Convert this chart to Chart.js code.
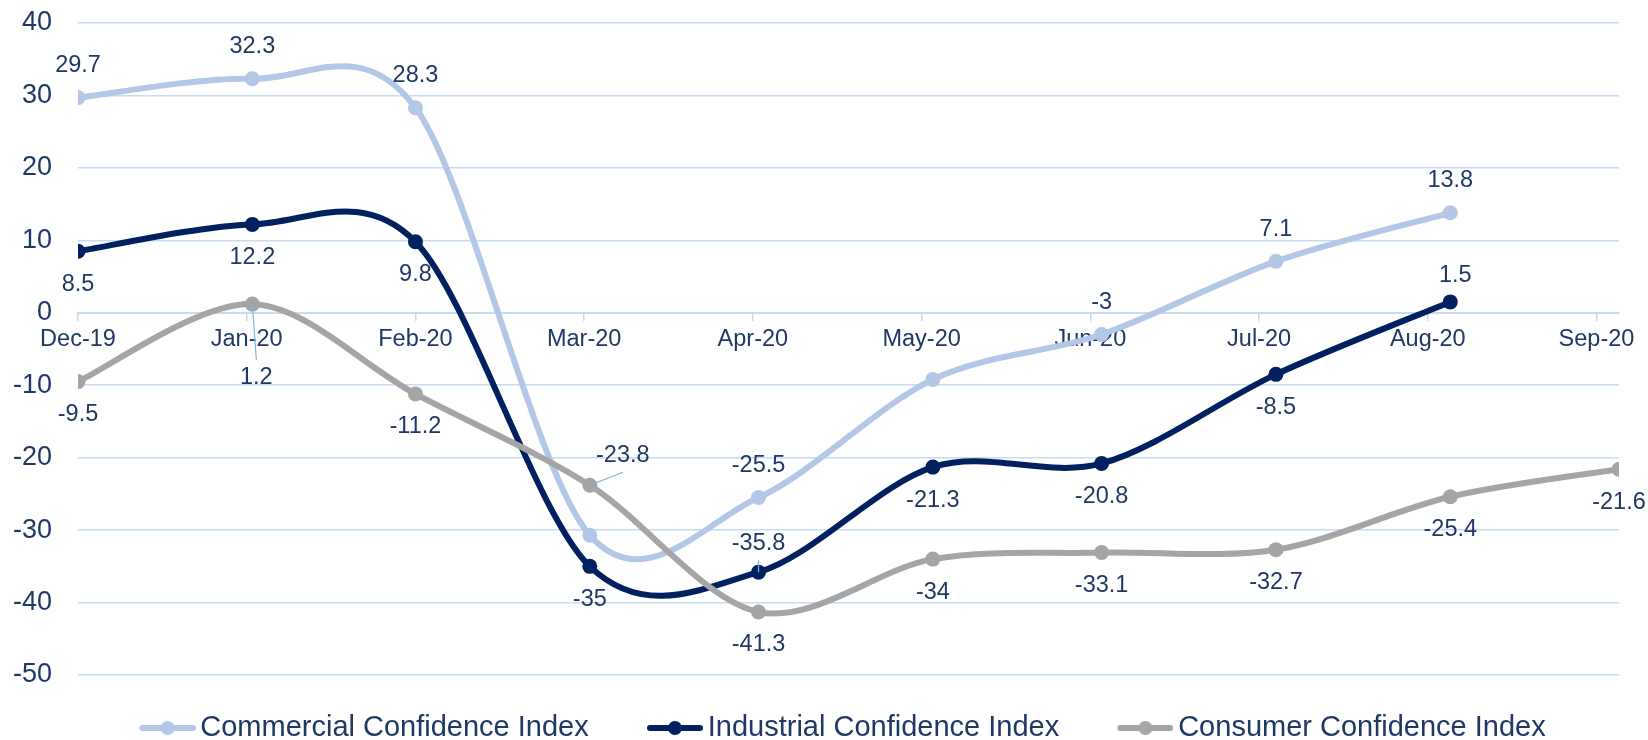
<!DOCTYPE html>
<html>
<head>
<meta charset="utf-8">
<title>Confidence Indices</title>
<script src="https://cdn.jsdelivr.net/npm/chart.js@4.4.0/dist/chart.umd.min.js"></script>
<style>
  html, body { margin: 0; padding: 0; background: #fff; }
  #wrap { width: 1648px; height: 740px; position: relative; }
</style>
</head>
<body>
<div id="wrap"><canvas id="chart"></canvas></div>
<script>
// month-end observation dates, the x axis is a day axis
const dates = ['2019-12-31', '2020-01-31', '2020-02-29', '2020-03-31', '2020-04-30',
               '2020-05-31', '2020-06-30', '2020-07-31', '2020-08-31', '2020-09-30'];
const tickLabels = ['Dec-19', 'Jan-20', 'Feb-20', 'Mar-20', 'Apr-20',
                    'May-20', 'Jun-20', 'Jul-20', 'Aug-20', 'Sep-20'];
const tickStepDays = 30;

const commercial = [29.7, 32.3, 28.3, -30.7, -25.5, -9.2, -3, 7.1, 13.8, null];
const industrial = [8.5, 12.2, 9.8, -35, -35.8, -21.3, -20.8, -8.5, 1.5, null];
const consumer = [-9.5, 1.2, -11.2, -23.8, -41.3, -34, -33.1, -32.7, -25.4, -21.6];

const seriesNames = ['Commercial Confidence Index', 'Industrial Confidence Index', 'Consumer Confidence Index'];
const seriesColors = ['#B4C7E7', '#002060', '#A5A5A5'];

const textColor = '#1F3864';
const gridColor = '#C5DCF3';
const leaderColor = '#7FB2E5';
const fontFamily = '"Liberation Sans", Arial, sans-serif';
const smoothing = 0.16; // spreadsheet-style smoothed line

const dayMs = 86400000;
const start = Date.parse(dates[0]);
const dayOffsets = dates.map(d => Math.round((Date.parse(d) - start) / dayMs));

// where each series puts its value labels (hidden ones left out)
const labelLayout = [
    { dy: -32, hide: [3, 5], custom: {} },
    { dy: 33, hide: [], custom: { 4: { dy: -29, leader: true }, 8: { dx: 5, dy: -26 } } },
    { dy: 33, hide: [], custom: { 1: { dx: 4, dy: 73, leader: true }, 3: { dx: 33, dy: -30, leader: true } } }
];

const toPoints = values => values.map((v, i) => ({ x: dayOffsets[i], y: v }));

// line + dot icons for the legend, drawn at the right end of a wider canvas
const makeLegendIcon = (color) => {
    const c = document.createElement('canvas');
    c.width = 120;
    c.height = 18;
    const g = c.getContext('2d');
    g.strokeStyle = color;
    g.lineWidth = 6;
    g.lineCap = 'round';
    g.beginPath();
    g.moveTo(c.width - 53, 9);
    g.lineTo(c.width - 3, 9);
    g.stroke();
    g.fillStyle = color;
    g.beginPath();
    g.arc(c.width - 28, 9, 7, 0, Math.PI * 2);
    g.fill();
    return c;
};
const legendIcons = seriesColors.map(makeLegendIcon);

// control points like a spreadsheet smoothed line: tangent = (next - prev) * k
const spreadsheetCurve = {
    id: 'spreadsheetCurve',
    beforeDatasetDraw(chart, args) {
        const line = args.meta.dataset;
        const pts = args.meta.data.filter(p => !p.skip);
        pts.forEach((p, i) => {
            const prev = pts[i - 1] || p;
            const next = pts[i + 1] || p;
            const tx = (next.x - prev.x) * smoothing;
            const ty = (next.y - prev.y) * smoothing;
            p.cp1x = p.x - tx;
            p.cp1y = p.y - ty;
            p.cp2x = p.x + tx;
            p.cp2y = p.y + ty;
        });
        line._pointsUpdated = true;
        line._path = undefined;
    }
};

const pointLabels = {
    id: 'pointLabels',
    afterDatasetsDraw(chart) {
        const ctx = chart.ctx;
        ctx.save();
        ctx.font = `23.5px ${fontFamily}`;
        ctx.fillStyle = textColor;
        ctx.textAlign = 'center';
        ctx.textBaseline = 'middle';
        chart.data.datasets.forEach((ds, di) => {
            const meta = chart.getDatasetMeta(di);
            const layout = labelLayout[di];
            meta.data.forEach((pt, i) => {
                const v = ds.data[i].y;
                if (v === null || layout.hide.includes(i)) return;
                const c = layout.custom[i] || {};
                const lx = pt.x + (c.dx || 0);
                const ly = pt.y + (c.dy !== undefined ? c.dy : layout.dy);
                if (c.leader) {
                    ctx.beginPath();
                    ctx.strokeStyle = leaderColor;
                    ctx.lineWidth = 1.2;
                    ctx.moveTo(pt.x, pt.y);
                    ctx.lineTo(lx, ly + (ly > pt.y ? -17 : 17));
                    ctx.stroke();
                }
                ctx.fillText(String(v), lx, ly);
            });
        });
        ctx.restore();
    }
};

const makeDataset = (values, i) => ({
    label: seriesNames[i],
    data: toPoints(values),
    borderColor: seriesColors[i],
    backgroundColor: seriesColors[i],
    borderWidth: 6,
    pointRadius: 7.5,
    pointBorderWidth: 0,
    pointHoverRadius: 7.5,
    tension: 0.4,
    order: 3 - i
});

new Chart(document.getElementById('chart'), {
    type: 'line',
    data: {
        datasets: [commercial, industrial, consumer].map(makeDataset)
    },
    options: {
        responsive: true,
        maintainAspectRatio: false,
        animation: false,
        layout: { padding: { top: 23, left: 12, right: 29, bottom: 0 } },
        scales: {
            x: {
                type: 'linear',
                min: 0,
                max: dayOffsets[dayOffsets.length - 1],
                position: { y: 0 },
                grid: { drawOnChartArea: false, drawTicks: true, tickLength: 7, color: gridColor, lineWidth: 1.5 },
                border: { display: true, color: gridColor, width: 2 },
                ticks: {
                    stepSize: tickStepDays,
                    includeBounds: false,
                    autoSkip: false,
                    maxRotation: 0,
                    padding: 6,
                    color: textColor,
                    font: { family: fontFamily, size: 23.5 },
                    callback: v => tickLabels[Math.round(v / tickStepDays)]
                }
            },
            y: {
                min: -50,
                max: 40,
                afterFit: scale => {
                    scale.width = 66;
                    scale.paddingTop = 0;
                    scale.paddingBottom = 0;
                },
                grid: { color: gridColor, lineWidth: 1.5, drawTicks: false },
                border: { display: false },
                ticks: {
                    stepSize: 10,
                    padding: 26,
                    color: textColor,
                    font: { family: fontFamily, size: 27 }
                }
            }
        },
        plugins: {
            tooltip: { enabled: false },
            legend: {
                position: 'bottom',
                maxHeight: 65,
                title: { display: true, text: '', font: { size: 10, lineHeight: 1 }, padding: { top: 0, bottom: 24.5 } },
                labels: {
                    usePointStyle: true,
                    pointStyleWidth: 100.5,
                    padding: 4,
                    color: textColor,
                    font: { family: fontFamily, size: 29 },
                    sort: (a, b) => a.datasetIndex - b.datasetIndex,
                    generateLabels: chart => Chart.defaults.plugins.legend.labels.generateLabels(chart)
                        .map(item => ({ ...item, pointStyle: legendIcons[item.datasetIndex] }))
                }
            }
        }
    },
    plugins: [spreadsheetCurve, pointLabels]
});
</script>
</body>
</html>
